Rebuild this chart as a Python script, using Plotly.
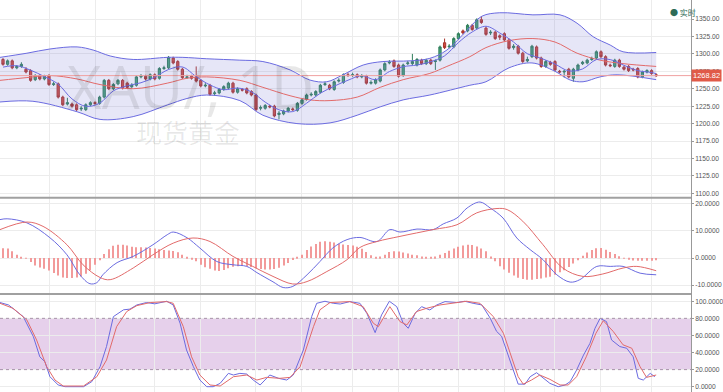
import plotly.graph_objects as go

# ---------------- data ----------------
IDX = list(range(143))
OPEN = [1292,1285,1290,1280,1282,1278,1276,1263,1269,1264,1269,1256,1257,1238,1228,1228,1227,1221,1220,1227,
        1230,1229,1238,1262,1250,1257,1262,1258,1253,1255,1267,1268,1264,1270,1265,1279,1280,1294,1289,1278,
        1266,1268,1267,1262,1254,1255,1243,1244,1249,1251,1258,1245,1249,1250,1246,1241,1222,1222,1225,1225,
        1213,1214,1218,1221,1219,1229,1235,1241,1241,1245,1256,1255,1249,1261,1259,1270,1269,1270,1267,1268,
        1258,1258,1261,1277,1287,1290,1284,1269,1286,1286,1284,1291,1286,1291,1289,1291,1316,1310,1310,1322,
        1333,1333,1341,1337,1349,1337,1330,1331,1326,1329,1320,1309,1311,1301,1290,1296,1310,1294,1282,1288,
        1289,1275,1274,1278,1265,1277,1286,1287,1292,1294,1303,1296,1284,1282,1291,1281,1282,1278,1279,1267,
        1274,1276,1270]
HIGH = [1294,1292,1292,1284,1288,1281,1278,1271,1271,1270,1271,1260,1259,1240,1237,1230,1229,1225,1229,1232,
        1232,1240,1264,1264,1258,1264,1264,1260,1258,1269,1271,1270,1272,1272,1281,1283,1297,1296,1291,1280,
        1270,1270,1282,1264,1258,1257,1247,1251,1255,1260,1260,1252,1251,1252,1248,1243,1226,1228,1227,1227,
        1218,1220,1224,1223,1231,1236,1243,1245,1248,1257,1260,1257,1262,1265,1272,1273,1273,1272,1271,1270,
        1262,1265,1279,1288,1291,1292,1286,1286,1290,1300,1294,1293,1293,1293,1292,1312,1322,1314,1324,1331,
        1335,1343,1343,1351,1354,1339,1334,1333,1328,1331,1322,1314,1313,1303,1296,1313,1312,1296,1291,1290,
        1291,1277,1277,1280,1280,1286,1290,1293,1296,1305,1305,1298,1286,1293,1293,1283,1284,1280,1281,1276,
        1278,1278,1272]
LOW = [1283,1283,1278,1278,1280,1272,1260,1261,1262,1262,1254,1254,1236,1225,1226,1223,1218,1218,1218,1225,
       1227,1227,1236,1248,1248,1255,1249,1250,1251,1253,1265,1262,1262,1262,1263,1277,1278,1285,1276,1264,
       1264,1263,1259,1252,1252,1240,1240,1242,1247,1249,1243,1243,1246,1242,1239,1218,1219,1220,1222,1209,
       1206,1212,1216,1218,1217,1227,1233,1239,1239,1243,1254,1248,1247,1259,1257,1267,1267,1265,1265,1256,
       1256,1256,1259,1275,1285,1280,1266,1267,1284,1284,1282,1284,1284,1284,1277,1289,1307,1308,1308,1320,
       1328,1331,1333,1335,1343,1326,1327,1320,1320,1318,1306,1306,1299,1287,1288,1294,1292,1280,1280,1283,
       1275,1272,1266,1265,1260,1275,1284,1285,1290,1292,1294,1282,1281,1280,1280,1276,1274,1275,1265,1265,
       1272,1270,1267]
CLOSE = [1285,1290,1280,1282,1285,1274,1262,1269,1264,1268,1256,1257,1238,1227,1230,1225,1220,1222,1227,1230,
         1229,1238,1262,1250,1256,1262,1251,1252,1255,1267,1268,1264,1270,1264,1279,1280,1295,1287,1278,1266,
         1267,1265,1261,1254,1255,1242,1244,1249,1253,1258,1245,1250,1248,1244,1241,1220,1223,1226,1224,1211,
         1215,1218,1222,1220,1229,1234,1241,1242,1246,1255,1257,1250,1260,1262,1270,1269,1270,1267,1268,1258,
         1259,1263,1277,1286,1288,1282,1268,1284,1287,1289,1292,1286,1291,1286,1290,1310,1309,1311,1322,1329,
         1330,1341,1335,1349,1345,1328,1331,1322,1324,1320,1308,1311,1301,1289,1292,1311,1294,1282,1289,1285,
         1277,1274,1275,1267,1278,1284,1288,1291,1293,1303,1296,1284,1283,1291,1282,1278,1276,1277,1267,1274,
         1276,1272,1268.82]
LAST_PRICE = 1268.82

UP_X = [-0.65,5.2,10.2,16.1,19.6,23.3,28.3,35.7,39.1,44.3,51.5,56.5,62.4,66.7,70.4,73.9,78.3,82.6,88.5,92.8,
        96.5,100.9,104.1,108,115.2,121.1,124.8,128.3,132,134.8,142]
UP_V = [1295,1301,1307,1310,1305.5,1297,1292,1295,1295,1293,1291,1289,1277,1262.5,1260,1270,1284,1289,1290,1293.6,
        1305.5,1334,1354,1359,1356,1356,1344,1324.6,1312.7,1303,1302]
LO_X = [-0.65,6.5,16.1,21.1,28.3,35.7,40,44.3,51.5,56.5,63.9,71.1,77,82,87,92.8,101.5,105,110,115,120,123.3,
        126.1,129.8,133.5,142]
LO_V = [1231,1232,1217,1206,1210,1226.6,1236,1241,1233,1212,1200,1201,1212,1224,1234,1241,1255,1260,1280,1287,
        1275,1262.5,1260,1267,1270,1263]
MID_X = [-0.65,5.2,10.2,16.1,21.1,28.3,35.7,40,44.3,51.5,56.5,62.4,66.7,71.1,77,82,87,92.8,96.5,101.5,105,110,
         115.2,120,124.8,129.8,134.8,142]
MID_V = [1262,1266,1269,1264,1256,1250,1258,1265,1267,1262,1252,1240,1234,1233,1238,1252,1263,1272,1282,1296,
         1309,1319,1322,1317,1301,1291,1286,1282]

MA_IDX = [0,3,6,9,12,15,18,21,24,27,30,33,36,39,42,45,48,51,54,57,60,63,66,69,72,75,78,81,84,87,90,93,96,99,
          102,105,108,111,114,117,120,123,126,129,132,135,138,141,142]
MA_FAST = [1281,1283,1276.6,1267.4,1256.6,1235.4,1224.8,1229.2,1247,1254.2,1258.6,1266.6,1277.6,1281.2,1267.4,
           1255.4,1248.6,1251,1245.6,1230.8,1219.8,1217.2,1229.2,1243.6,1253.6,1262.2,1268.8,1263,1274.6,1281.6,
           1284,1288.8,1297.2,1316.2,1331.4,1339.6,1330,1317,1300.2,1293.6,1285.4,1275.6,1278.4,1291.8,1291.8,
           1283.6,1276,1273.2,1271.6]

MACD_X = [-0.65,0.9,5.2,10.2,13.9,16.7,18.9,20.4,21.7,24.8,28.3,32.6,35.7,37,40,42.8,46.5,50,53,55.2,58.7,60.9,
          63,66.1,68.9,71.7,74.8,77.6,81.3,84.1,86.3,90,93.5,95.7,98.7,100.9,103.7,105.9,108.7,111.7,114.6,117.4,
          120.4,123.3,125.4,129.1,132,134.8,138.5,142]
MACD_V = [14.2,14.5,13,7.5,1.2,-6.2,-9.5,-9.1,-6.2,-1.7,0.6,4.9,8.6,9.6,7.5,3.7,-1.3,-2.5,-3.1,-5.4,-8.8,-10.9,
          -10.5,-6.2,-1.3,3.7,6.8,7.6,6.1,10.5,9.6,10.7,10.5,12.6,14.8,18.5,20.7,18.5,14.8,7.4,3.1,-0.6,
          -6.2,-8.9,-8,-3.1,-3.1,-3.1,-5.6,-6.2]
SIG_X = [-0.65,5.2,8.7,13.9,17.4,21.1,23.3,28.3,32.6,37,41.3,45,50,54.3,58.7,63,66.1,70.4,74.8,77.6,81.3,86.3,
         93.5,98.7,103,107.4,109.6,113,117.4,121.7,126.1,130.4,134.8,137.8,142]
SIG_V = [10.5,13.3,11.7,4.9,-2.5,-7.2,-8,-3.7,1.2,5.5,7.4,6.1,0.6,-3.1,-6.8,-9.6,-8.7,-5,-0.6,3.9,6.1,8,
         10.5,12.3,16.7,18.3,17.9,13.6,4.9,-3.7,-6.8,-5.9,-3.7,-3.1,-4.7]
HIST = [3.6,3.5,2.5,1.2,0.5,-0.2,-1.5,-2.8,-3.5,-4.0,-4.6,-5.5,-6.5,-7.2,-7.4,-7.4,-7.2,-6.8,-5.8,-4.5,
        -2.5,-0.8,1.5,3.2,4.5,4.9,4.9,4.6,4.2,4.0,4.0,3.9,3.7,3.5,3.2,3.0,2.8,2.6,2.1,1.2,
        0.3,-0.5,-1.2,-2.5,-3.4,-4.0,-4.6,-4.8,-4.4,-3.8,-3.2,-3.0,-2.8,-3.0,-3.3,-3.8,-4.1,-4.2,-4.2,-4.1,
        -3.6,-2.8,-1.8,-0.7,0.2,1.2,3.0,4.3,5.2,6.0,6.2,6.0,5.7,5.3,5.0,4.8,4.6,4.2,3.4,2.2,
        1.0,0.4,0.6,1.2,2.2,2.5,2.4,2.0,1.7,1.2,1.0,0.6,0.4,0.3,0.6,1.2,1.9,2.7,3.5,4.2,
        4.6,4.9,4.8,4.3,3.5,2.5,0.6,-1.2,-3.0,-4.2,-5.4,-6.5,-7.3,-7.8,-8.0,-8.0,-7.8,-7.6,-7.2,-6.9,
        -6.2,-5.3,-4.5,-3.3,-2.0,-0.8,0.8,2.0,3.0,3.6,3.7,3.1,2.2,1.5,0.7,0.1,-0.5,-0.9,-1.0,-1.0,
        -1.0,-1.0,-0.8]

K_X = [-0.65,1.2,4.4,6.6,8,9.1,10.2,12,13.5,17.5,19.3,21.1,22.5,24,26.2,27.6,29.1,31.2,33,35.6,37,38.5,39.9,
       41.4,42.8,44.3,45.7,47.2,49,50.1,51.5,53,54.4,55.9,58,59.9,61.7,63.1,65.3,67.1,68.2,70,71.8,73.3,75.4,
       77.6,79.1,80.9,82.3,84,85.6,87,88.1,89.6,91,92.8,94.3,96.1,98.6,100.4,102.2,104.1,105.9,107.3,108.4,
       109.8,110.9,112,113.5,114.6,116,117.5,118.9,120.7,122.2,123.3,124.7,126.2,127.6,128.7,129.8,131.2,
       132.3,134.1,135.6,137,138.1,139.2,140.7,141.7]
K_V = [98.5,95.7,82,58.6,35,29.3,11.7,2,0,0,5.9,23.4,47,82,90,90.8,95.7,98.5,97,100,95.7,74.3,43,
       23.4,7.8,0,0,3.9,15.6,13.7,15.6,14.8,7.8,2,13.7,9.8,7.8,13.7,43,82,97.6,100,97.6,96.8,99.6,
       97.6,85.9,63.3,84,100,93.7,74.3,68.4,85.9,93.7,89.8,95.7,99.6,98.5,100,97.6,95.7,80.4,64.8,59,
       37.5,19.9,3,3,11.7,16.4,9.8,3.9,0,2,5.9,19.5,37,50.7,68.4,80,76.2,
       54.7,47,45,35,9.8,7.8,15.6,11.7]
D_X = [-0.65,2.2,5.2,7.3,9.5,11.3,13.1,17.5,20.4,22.5,24.7,26.9,29.1,32,35.6,37,39.2,41,42.8,45,47.2,50.1,
       53,55.2,57.3,60.2,62.4,64.6,67.5,68.9,71.1,75.4,78.3,80.5,81.6,84.1,86.3,87.8,89.9,92.1,95,98.6,100.8,
       103.7,106.6,108.8,110.6,112,113.1,114.9,116.7,118.9,121.1,122.9,124.7,126.8,128.9,130.5,132.7,134.8,
       136.7,138.5,139.9,142]
D_V = [97.6,91.7,78,54.7,23.4,7.8,0.8,0.8,11.7,31.2,70.3,88,94.9,98.5,99.6,97.6,70.3,35,13.7,2,0.8,11.7,
       13.7,7.8,10.9,9.8,10.9,23.4,70.3,90,98.5,99.6,93.7,74.3,70.3,93.7,76.2,72.3,88,91.8,95.7,98.5,100,
       97.6,82,62.5,35.1,11.7,3,7.8,13.7,8.6,2,2,11.7,35,62.5,77.3,64.4,49,
       45,23.4,10.9,13.7]

GRID_IDX = [10, 20, 33, 43, 55, 65, 76, 86, 99, 109, 120, 130, 141]
PRICE_TICKS = [1100, 1125, 1150, 1175, 1200, 1225, 1250, 1275, 1300, 1325, 1350]
MACD_TICKS = [-10, 0, 10, 20]
STOCH_TICKS = [0, 20, 40, 60, 80, 100]

# ---------------- figure ----------------
BLUE = "#6b6be0"
RED = "#e26a6a"
fig = go.Figure()

fig.add_trace(go.Scatter(x=UP_X, y=UP_V, mode="lines", line=dict(color=BLUE, width=1, shape="spline"),
                         hoverinfo="skip", xaxis="x", yaxis="y"))
fig.add_trace(go.Scatter(x=LO_X, y=LO_V, mode="lines", line=dict(color=BLUE, width=1, shape="spline"),
                         fill="tonexty", fillcolor="rgba(130,130,215,0.20)", hoverinfo="skip",
                         xaxis="x", yaxis="y"))
fig.add_trace(go.Scatter(x=MID_X, y=MID_V, mode="lines", line=dict(color=RED, width=1, shape="spline"),
                         hoverinfo="skip", xaxis="x", yaxis="y"))
fig.add_trace(go.Scatter(x=MA_IDX, y=MA_FAST, mode="lines", line=dict(color=BLUE, width=1, shape="spline"),
                         hoverinfo="skip", xaxis="x", yaxis="y"))

fig.add_trace(go.Candlestick(x=IDX, open=OPEN, high=HIGH, low=LOW, close=CLOSE,
                             increasing=dict(line=dict(color="#2f7d5a", width=1), fillcolor="#45a37a"),
                             decreasing=dict(line=dict(color="#a8332b", width=1), fillcolor="#d24b40"),
                             whiskerwidth=0, xaxis="x", yaxis="y"))

fig.add_trace(go.Bar(x=IDX, y=HIST, marker=dict(color="#f29a9a", line=dict(width=0)), width=0.22,
                     xaxis="x2", yaxis="y2"))
fig.add_trace(go.Scatter(x=MACD_X, y=MACD_V, mode="lines", line=dict(color=BLUE, width=1, shape="spline"),
                         xaxis="x2", yaxis="y2"))
fig.add_trace(go.Scatter(x=SIG_X, y=SIG_V, mode="lines", line=dict(color=RED, width=1, shape="spline"),
                         xaxis="x2", yaxis="y2"))

fig.add_trace(go.Scatter(x=K_X, y=K_V, mode="lines", line=dict(color=BLUE, width=1),
                         xaxis="x3", yaxis="y3"))
fig.add_trace(go.Scatter(x=D_X, y=D_V, mode="lines", line=dict(color=RED, width=1),
                         xaxis="x3", yaxis="y3"))

XR = [-0.652, 149.57]
FONT = dict(family="Liberation Sans, Arial, sans-serif", size=6.7, color="#555")
xcommon = dict(range=XR, tickvals=GRID_IDX, showticklabels=False, showgrid=True, gridcolor="#ececec",
               gridwidth=1, zeroline=False, showline=False, ticks="", fixedrange=True)
ycommon = dict(side="right", showgrid=True, gridcolor="#ececec", zeroline=False, showline=True,
               linecolor="#999", linewidth=1, ticks="outside", ticklen=2, tickcolor="#999",
               tickfont=FONT, fixedrange=True)

fig.update_layout(
    width=723, height=392, margin=dict(l=0, r=32, t=0, b=0, autoexpand=False),
    paper_bgcolor="white", plot_bgcolor="white", showlegend=False,
    font=FONT,
    xaxis=dict(**xcommon, anchor="y", rangeslider=dict(visible=False)),
    xaxis2=dict(**xcommon, anchor="y2", matches="x"),
    xaxis3=dict(**xcommon, anchor="y3", matches="x"),
    yaxis=dict(**ycommon, domain=[0.4957, 1], range=[1093.7, 1377.3], tickvals=PRICE_TICKS,
               ticktext=[f"{v:.2f}" for v in PRICE_TICKS], anchor="x"),
    yaxis2=dict(**ycommon, domain=[0.25, 0.4957], range=[-13.3, 22.3], tickvals=MACD_TICKS,
                ticktext=[f"{v:.4f}" for v in MACD_TICKS], anchor="x2"),
    yaxis3=dict(**ycommon, domain=[0, 0.25], range=[-6.2, 108.5], tickvals=STOCH_TICKS,
                ticktext=[f"{v:.4f}" for v in STOCH_TICKS], anchor="x3"),
)

shapes = [
    dict(type="rect", xref="x3 domain", yref="y3", x0=0, x1=1, y0=20, y1=80,
         fillcolor="rgba(200,150,210,0.45)", line=dict(width=0), layer="below"),
    dict(type="line", xref="x3 domain", yref="y3", x0=0, x1=1, y0=80, y1=80,
         line=dict(color="#a890aa", width=1, dash="dot")),
    dict(type="line", xref="x3 domain", yref="y3", x0=0, x1=1, y0=20, y1=20,
         line=dict(color="#a890aa", width=1, dash="dot")),
    dict(type="line", xref="x domain", yref="y", x0=0, x1=1, y0=LAST_PRICE, y1=LAST_PRICE,
         line=dict(color="#f0a0a0", width=1)),
    dict(type="line", xref="paper", yref="paper", x0=0, x1=1, y0=0.4957, y1=0.4957,
         line=dict(color="#a0a0a0", width=2)),
    dict(type="line", xref="paper", yref="paper", x0=0, x1=1, y0=0.25, y1=0.25,
         line=dict(color="#a0a0a0", width=2)),
]
fig.update_layout(shapes=shapes)

annotations = [
    dict(text="XAU/, 1D", xref="paper", yref="paper", x=0.275, y=0.781, showarrow=False,
         font=dict(family="Open Sans, sans-serif", size=60, color="rgba(0,0,0,0.09)"),
         xanchor="center", yanchor="middle"),
    dict(text="现货黄金", xref="paper", yref="paper", x=0.272, y=0.665, showarrow=False,
         font=dict(family="Noto Sans CJK SC", size=26, color="rgba(0,0,0,0.09)"),
         xanchor="center", yanchor="middle"),
    dict(text=f"{LAST_PRICE:.2f}", xref="paper", yref="y", x=1.0, y=LAST_PRICE, showarrow=False,
         xanchor="left", yanchor="middle", bgcolor="#e05a48",
         font=dict(color="white", size=7.5, family="Liberation Sans, Arial, sans-serif"), borderpad=1),
    dict(text="<span style='color:#2e6b57'>●</span> 实时", xref="paper", yref="paper", x=0.967, y=0.968,
         showarrow=False, xanchor="left", yanchor="middle",
         font=dict(family="Noto Sans CJK SC", size=8, color="#2e6b57")),
]
fig.update_layout(annotations=annotations)

fig.write_html("out.html", config={"displayModeBar": False},
               post_script="document.body.style.margin='0';document.body.style.padding='0';")
